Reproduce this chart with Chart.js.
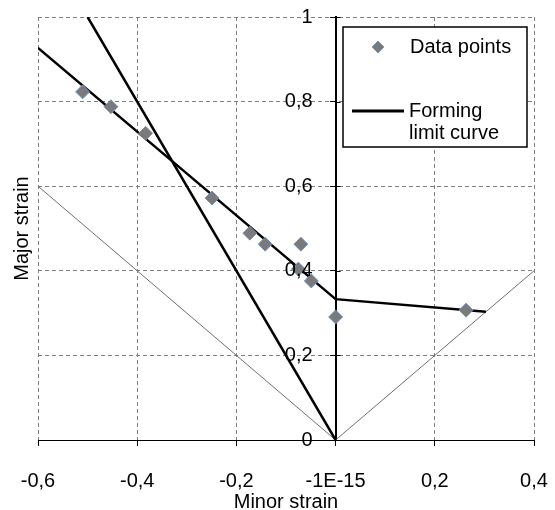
<!DOCTYPE html>
<html>
<head>
<meta charset="utf-8">
<script src="https://cdn.jsdelivr.net/npm/chart.js@4"></script>
<style>
html,body{margin:0;padding:0;background:#fff;}
#wrap{width:555px;height:510px;position:relative;}
</style>
</head>
<body>
<div id="wrap"><canvas id="c" width="555" height="510"></canvas></div>
<script>
// ---- data ----
const pointMinor = [-0.510, -0.453, -0.383, -0.249, -0.173, -0.142, -0.070, -0.075, -0.049, 0.000, 0.263];
const pointMajor = [0.823, 0.788, 0.725, 0.572, 0.489, 0.463, 0.463, 0.404, 0.376, 0.291, 0.307];
const flcMinor = [-0.6, 0.0, 0.303];
const flcMajor = [0.927, 0.333, 0.303];
const steepMinor = [-0.5, 0.0];
const steepMajor = [1.0, 0.0];
const refLeftMinor = [-0.6, 0.0];
const refLeftMajor = [0.6, 0.0];
const refRightMinor = [0.0, 0.4];
const refRightMajor = [0.0, 0.4];
const xTickValues = [-0.6, -0.4, -0.2, 0, 0.2, 0.4];
const xTickLabels = ['-0,6', '-0,4', '-0,2', '-1E-15', '0,2', '0,4'];
const yTickValues = [0, 0.2, 0.4, 0.6, 0.8, 1];
const yTickLabels = ['0', '0,2', '0,4', '0,6', '0,8', '1'];
const xTitle = 'Minor strain';
const yTitle = 'Major strain';
const legendPoints = 'Data points';
const legendCurve = ['Forming', 'limit curve'];

const zip = (xs, ys) => xs.map((x, i) => ({x: x, y: ys[i]}));
const FONT = 'Liberation Sans, Arial, sans-serif';

function labelFor(values, labels, v) {
  for (let i = 0; i < values.length; i++) if (Math.abs(values[i] - v) < 1e-9) return labels[i];
  return '';
}

// tick labels (and right-hand tick marks) of the crossing y axis, from the y2 scale's own ticks
const crossAxisLabels = {
  id: 'crossAxisLabels',
  afterDatasetsDraw(chart) {
    const s = chart.scales.y2;
    const axisX = chart.scales.x.getPixelForValue(0);
    const ctx = chart.ctx;
    ctx.save();
    ctx.strokeStyle = '#000';
    ctx.lineWidth = 1;
    s.ticks.forEach(t => {
      const py = Math.round(s.getPixelForValue(t.value)) + 0.5;
      ctx.beginPath(); ctx.moveTo(axisX, py); ctx.lineTo(axisX + 5, py); ctx.stroke();
    });
    ctx.fillStyle = '#000';
    ctx.font = '20px ' + FONT;
    ctx.textAlign = 'right';
    ctx.textBaseline = 'middle';
    s.ticks.forEach(t => {
      ctx.fillText(labelFor(yTickValues, yTickLabels, t.value), axisX - 23, s.getPixelForValue(t.value));
    });
    ctx.restore();
  }
};

const legendPlugin = {
  id: 'boxLegend',
  afterDraw(chart) {
    const ctx = chart.ctx;
    const L = 343, T = 27, R = 527, B = 147;
    ctx.save();
    ctx.fillStyle = '#fff';
    ctx.fillRect(L, T, R - L, B - T);
    ctx.strokeStyle = '#000';
    ctx.lineWidth = 1.5;
    ctx.strokeRect(L, T, R - L, B - T);
    const mx = 378, my = 47, r = 6;
    ctx.beginPath();
    ctx.moveTo(mx, my - r); ctx.lineTo(mx + r, my); ctx.lineTo(mx, my + r); ctx.lineTo(mx - r, my); ctx.closePath();
    ctx.fillStyle = '#7a7a7a'; ctx.fill();
    ctx.strokeStyle = 'rgba(110,145,200,0.9)'; ctx.lineWidth = 1; ctx.stroke();
    ctx.beginPath(); ctx.moveTo(352, 111); ctx.lineTo(404, 111);
    ctx.strokeStyle = '#000'; ctx.lineWidth = 3; ctx.stroke();
    ctx.fillStyle = '#000';
    ctx.font = '20px ' + FONT;
    ctx.textBaseline = 'middle';
    ctx.textAlign = 'left';
    ctx.fillText(legendPoints, 410, 47);
    ctx.fillText(legendCurve[0], 409, 111);
    ctx.fillText(legendCurve[1], 409, 133);
    ctx.restore();
  }
};

new Chart(document.getElementById('c'), {
  type: 'scatter',
  data: {
    datasets: [
      {
        label: legendPoints,
        data: zip(pointMinor, pointMajor),
        pointStyle: 'rectRot',
        pointRadius: 7,
        backgroundColor: '#7a7a7a',
        borderColor: 'rgba(110,145,200,0.9)',
        borderWidth: 1,
        showLine: false
      },
      {
        label: 'Forming limit curve',
        data: zip(flcMinor, flcMajor),
        showLine: true, pointRadius: 0,
        borderColor: '#000', borderWidth: 2.5
      },
      {
        label: 'steep',
        data: zip(steepMinor, steepMajor),
        showLine: true, pointRadius: 0,
        borderColor: '#000', borderWidth: 2.5
      },
      {
        label: 'refLeft',
        data: zip(refLeftMinor, refLeftMajor),
        showLine: true, pointRadius: 0,
        borderColor: '#707070', borderWidth: 1
      },
      {
        label: 'refRight',
        data: zip(refRightMinor, refRightMajor),
        showLine: true, pointRadius: 0,
        borderColor: '#707070', borderWidth: 1
      }
    ]
  },
  options: {
    responsive: false,
    animation: false,
    events: [],
    layout: {padding: {top: 17, right: 21, left: 0, bottom: 0}},
    plugins: {legend: {display: false}, tooltip: {enabled: false}},
    scales: {
      x: {
        type: 'linear', position: 'bottom',
        min: -0.6, max: 0.4,
        afterBuildTicks(s) { s.ticks = xTickValues.map(v => ({value: v})); },
        afterFit(s) { s.height = 70; s.paddingLeft = 0; s.paddingRight = 0; },
        grid: {
          color: '#808080', lineWidth: 1,
          drawTicks: true, tickLength: 6, tickColor: '#000', tickBorderDash: [], tickWidth: 1
        },
        border: {display: true, color: '#000', width: 1, dash: [4, 3]},
        ticks: {
          color: '#000', font: {family: FONT, size: 20}, padding: 23, maxRotation: 0,
          callback: (v) => labelFor(xTickValues, xTickLabels, v)
        },
        title: {display: true, text: xTitle, color: '#000', font: {family: FONT, size: 20}, padding: {top: 0, bottom: -4}}
      },
      y: {
        type: 'linear', position: 'left',
        min: 0, max: 1,
        afterBuildTicks(s) { s.ticks = yTickValues.map(v => ({value: v})); },
        afterFit(s) { s.width = 38; },
        grid: {color: '#808080', lineWidth: 1, drawTicks: false},
        border: {display: false, dash: [4, 3]},
        ticks: {display: false},
        title: {display: true, text: yTitle, color: '#000', font: {family: FONT, size: 20}, padding: {top: 10, bottom: 0}}
      },
      y2: {
        type: 'linear', position: {x: 0}, axis: 'y',
        min: 0, max: 1,
        afterBuildTicks(s) { s.ticks = yTickValues.map(v => ({value: v})); },
        afterFit(s) { s.paddingTop = 0; s.paddingBottom = 0; },
        grid: {drawOnChartArea: false, drawTicks: true, tickLength: 5, tickColor: '#000', color: '#000'},
        border: {display: true, color: '#000', width: 2},
        ticks: {display: false}
      }
    }
  },
  plugins: [crossAxisLabels, legendPlugin]
});
</script>
</body>
</html>
